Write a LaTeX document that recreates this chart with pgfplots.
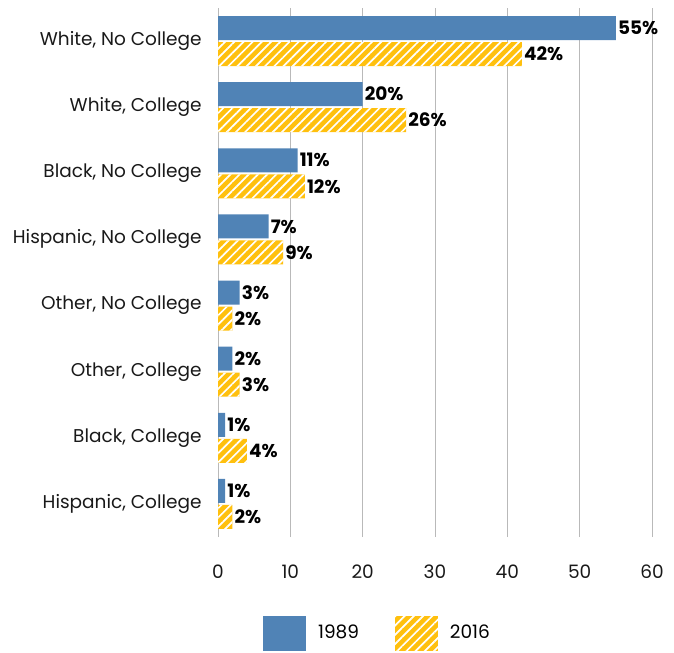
\documentclass[border=0pt]{standalone}
\usepackage{pgfplots}
\pgfplotsset{compat=1.18}
\usetikzlibrary{patterns.meta}
\usepackage{fontspec}
\setmainfont{Poppins}
\definecolor{cblue}{RGB}{80,131,182}
\definecolor{cyel}{RGB}{255,192,14}
\definecolor{cgrid}{RGB}{185,185,185}
\begin{document}
\fontsize{18.5bp}{22bp}\selectfont
\begin{tikzpicture}
\path[use as bounding box] (0,0) rectangle (674bp,653bp);
\begin{axis}[
  at={(218bp,116bp)}, anchor=south west,
  scale only axis, width=434bp, height=529bp,
  xmin=0, xmax=60, ymin=-0.5, ymax=7.5,
  xbar, bar width=24bp,
  xtick={0,10,20,30,40,50,60},
  ytick={0,1,2,3,4,5,6,7},
  yticklabels={{Hispanic, College},{Black, College},{Other, College},{Other, No College},{Hispanic, No College},{Black, No College},{White, College},{White, No College}},
  xticklabel={\raisebox{-35bp}{\pgfmathprintnumber[assume math mode=true]{\tick}}},
  xmajorgrids, major grid style={cgrid, line width=1bp},
  axis line style={draw=none},
  major tick length=0bp,
  tick style={draw=none},
  yticklabel style={font=\fontsize{18.5bp}{22bp}\selectfont, text=black!90, xshift=-10bp},
  xticklabel style={font=\fontsize{18.5bp}{22bp}\selectfont, text=black!90},
  /pgf/number format/assume math mode=true,
  nodes near coords={\textbf{\pgfmathprintnumber{\pgfplotspointmeta}\%}},
  nodes near coords align={horizontal},
  every node near coord/.append style={font=\fontsize{18.5bp}{22bp}\selectfont, text=black, inner sep=2bp},
  legend style={at={(0.3652,-0.1815)}, anchor=center, draw=none, fill=none,
    legend columns=2, font=\fontsize{18.5bp}{22bp}\selectfont,
    /tikz/every odd column/.append style={column sep=12bp},
    /tikz/every even column/.append style={column sep=36bp},
    nodes={inner sep=0bp}},
  legend image code/.code={\path[#1] (0bp,-17.5bp) rectangle (43bp,17.5bp);},
]
\addplot[draw=none, fill=cblue, bar shift=13bp] coordinates {
(1,0) (1,1) (2,2) (3,3) (7,4) (11,5) (20,6) (55,7)};
\addlegendentry{1989}
\addplot[draw=none, fill=cyel, bar shift=-13bp,
  postaction={pattern={Lines[angle=45, distance=6.5bp, line width=1.7bp]}, pattern color=white}] coordinates {
(2,0) (4,1) (3,2) (2,3) (9,4) (12,5) (26,6) (42,7)};
\addlegendentry{2016}
\end{axis}
\end{tikzpicture}
\end{document}
